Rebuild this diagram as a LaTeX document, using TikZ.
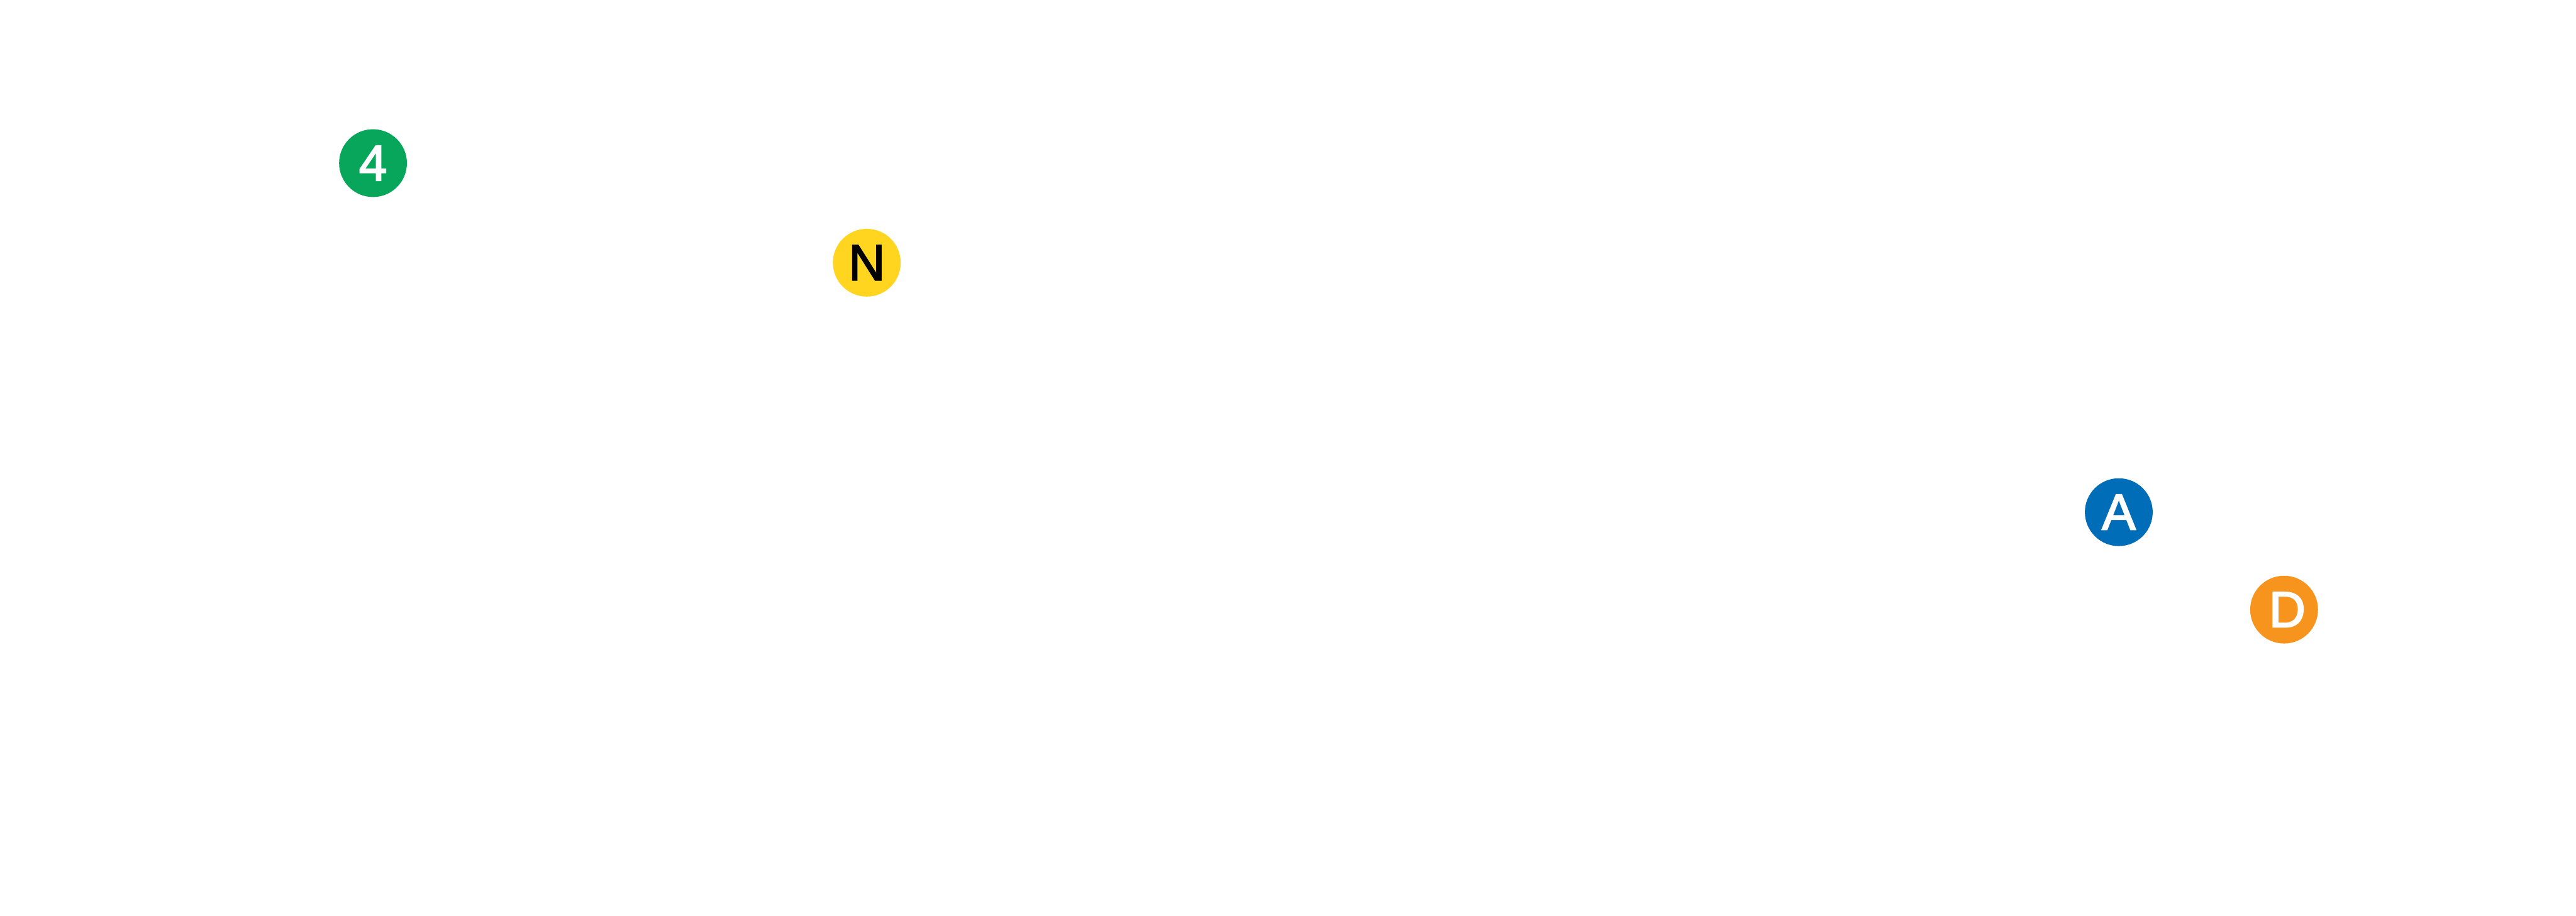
\documentclass[tikz,border=0pt]{standalone}
\usepackage{fontspec}
\newfontfamily\badgefont[RawFeature={embolden=2.4}]{Liberation Sans}
\usepackage{xcolor}
\definecolor{cgreen}{HTML}{08A65B}
\definecolor{cyellow}{HTML}{FFD520}
\definecolor{cblue}{HTML}{006DB8}
\definecolor{corange}{HTML}{F7941E}

\begin{document}
\begin{tikzpicture}[
  font=\fontsize{27.2}{30}\badgefont,
  badge/.style={circle, minimum size=1.28cm, inner sep=0pt, text=white},
]
  % --- khung hình ---
  \useasboundingbox (0,0) rectangle (48.62,-17.29);
  % --- các huy hiệu ---
  \node[badge, fill=cgreen] (four) at (7.04,-3.08) {4};
  \node[badge, fill=cyellow, text=black] (north) at (16.36,-4.96) {N};
  \node[badge, fill=cblue] (alpha) at (39.99,-9.67) {A};
  \node[badge, fill=corange] (delta) at (43.11,-11.51) {\kern3.4pt D};
\end{tikzpicture}
\end{document}
